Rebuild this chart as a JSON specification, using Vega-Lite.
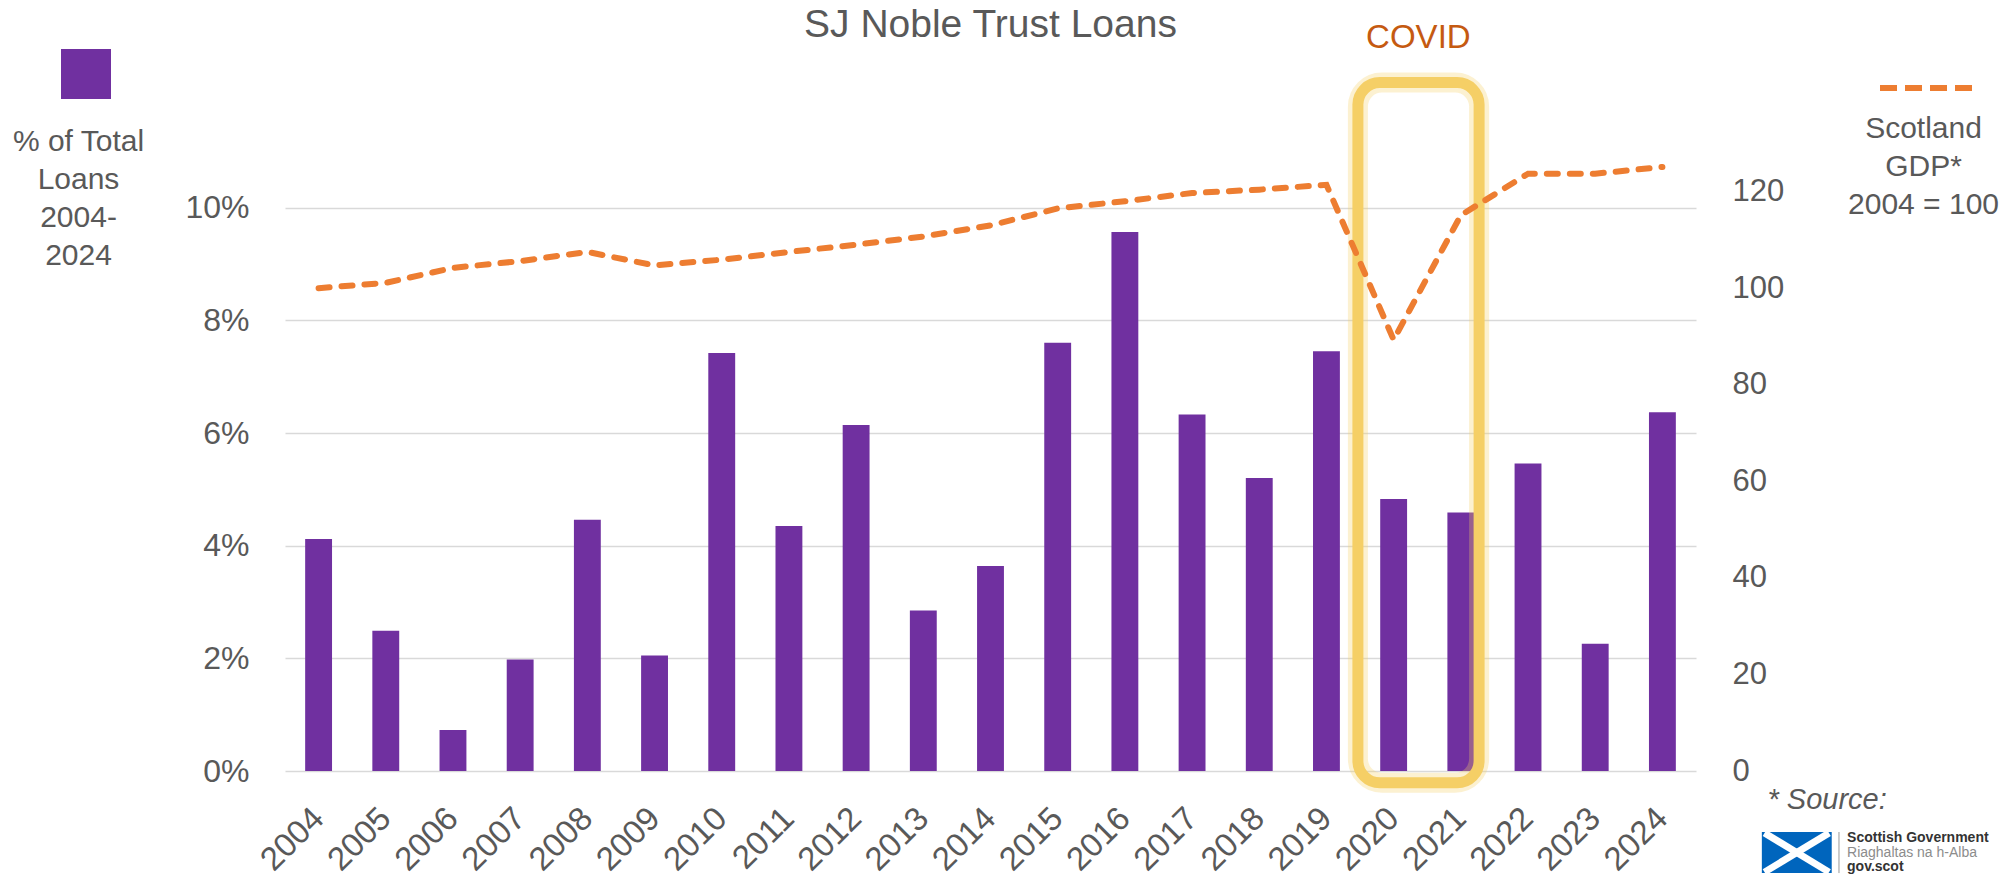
{
  "$schema": "https://vega.github.io/schema/vega-lite/v6.json",
  "width": 1411,
  "height": 676,
  "autosize": {"type": "none"},
  "padding": {"left": 285, "top": 95, "right": 316, "bottom": 106},
  "background": "white",
  "config": {"view": {"stroke": null}, "font": "Liberation Sans"},
  "data": {"values": [
    {"year": "2004", "loans": 0.0412, "gdp": 100.0},
    {"year": "2005", "loans": 0.0249, "gdp": 101.1},
    {"year": "2006", "loans": 0.0073, "gdp": 104.2},
    {"year": "2007", "loans": 0.0198, "gdp": 105.6},
    {"year": "2008", "loans": 0.0446, "gdp": 107.5},
    {"year": "2009", "loans": 0.0205, "gdp": 104.7},
    {"year": "2010", "loans": 0.0742, "gdp": 105.9},
    {"year": "2011", "loans": 0.0435, "gdp": 107.5},
    {"year": "2012", "loans": 0.0614, "gdp": 109.0},
    {"year": "2013", "loans": 0.0285, "gdp": 110.7},
    {"year": "2014", "loans": 0.0364, "gdp": 113.0},
    {"year": "2015", "loans": 0.0760, "gdp": 116.5},
    {"year": "2016", "loans": 0.0957, "gdp": 118.0},
    {"year": "2017", "loans": 0.0633, "gdp": 119.7},
    {"year": "2018", "loans": 0.0520, "gdp": 120.4},
    {"year": "2019", "loans": 0.0745, "gdp": 121.4},
    {"year": "2020", "loans": 0.0483, "gdp": 89.3},
    {"year": "2021", "loans": 0.0459, "gdp": 115.1},
    {"year": "2022", "loans": 0.0546, "gdp": 123.7},
    {"year": "2023", "loans": 0.0226, "gdp": 123.7},
    {"year": "2024", "loans": 0.0637, "gdp": 125.1}
  ]},
  "layer": [
    {
      "layer": [
        {
          "mark": {"type": "bar"},
          "encoding": {
            "x": {"field": "year", "type": "ordinal", "scale": {"paddingInner": 0.6, "paddingOuter": 0.3},
              "axis": {"domain": false, "ticks": false, "labelAngle": -45, "labelAlign": "right", "labelBaseline": "middle", "labelPadding": 42, "labelOffset": 0, "labelFontSize": 33, "labelColor": "#595959",
                "title": "* Source:", "titleX": 1482, "titleY": 37, "titleAlign": "left", "titleBaseline": "alphabetic", "titleFontStyle": "italic", "titleFontSize": 29, "titleFontWeight": "normal", "titleColor": "#595959"}},
            "y": {"field": "loans", "type": "quantitative", "scale": {"domain": [0, 0.12]},
              "axis": {"values": [0, 0.02, 0.04, 0.06, 0.08, 0.1], "format": ".0%", "grid": true, "gridColor": "#D9D9D9", "gridWidth": 1.5, "domain": false, "ticks": false, "tickSize": 0, "labelPadding": 36, "labelFontSize": 32, "labelColor": "#595959",
                "title": ["% of Total", "Loans", "2004-", "2024"], "titleAngle": 0, "titleX": -207, "titleY": 55, "titleAlign": "center", "titleBaseline": "alphabetic", "titleFontSize": 30, "titleFontWeight": "normal", "titleColor": "#595959", "titleLineHeight": 38}},
            "color": {"datum": "% of Total Loans", "scale": {"range": ["#7030A0"]},
              "legend": {"orient": "none", "legendX": -224, "legendY": -46, "title": null, "symbolType": "square", "symbolSize": 2500, "symbolStrokeWidth": 0, "labelExpr": "''", "padding": 0}}
          }
        },
        {
          "data": {"values": [{"title": "SJ Noble Trust Loans"}]},
          "mark": {"type": "text", "fontSize": 39, "color": "#595959", "align": "center", "baseline": "alphabetic"},
          "encoding": {
            "text": {"field": "title"},
            "x": {"datum": "2014"},
            "y": {"datum": 0.1303, "scale": {"domain": [0, 0.12]}}
          }
        },
        {
          "data": {"values": [{"period": "COVID"}]},
          "mark": {"type": "rect", "fillOpacity": 0, "stroke": "#F5CF66", "strokeOpacity": 0.3, "strokeWidth": 20, "cornerRadius": 24},
          "encoding": {
            "x": {"datum": "2020", "bandPosition": -0.83},
            "x2": {"datum": "2020", "bandPosition": 3.68},
            "y": {"datum": 0.1222, "scale": {"domain": [0, 0.12]}},
            "y2": {"datum": -0.0021}
          }
        },
        {
          "data": {"values": [{"period": "COVID"}]},
          "mark": {"type": "rect", "fillOpacity": 0, "stroke": "#F5CF66", "strokeWidth": 11, "cornerRadius": 22},
          "encoding": {
            "x": {"datum": "2020", "bandPosition": -0.83},
            "x2": {"datum": "2020", "bandPosition": 3.68},
            "y": {"datum": 0.1222, "scale": {"domain": [0, 0.12]}},
            "y2": {"datum": -0.0021}
          }
        },
        {
          "data": {"values": [{"label": "COVID"}]},
          "mark": {"type": "text", "fontSize": 33, "color": "#C55A11", "align": "center", "baseline": "alphabetic"},
          "encoding": {
            "text": {"field": "label"},
            "x": {"datum": "2020", "bandPosition": 1.42},
            "y": {"datum": 0.1283, "scale": {"domain": [0, 0.12]}}
          }
        },
        {
          "data": {"values": [{"logo": "flag"}]},
          "mark": {"type": "rect", "fill": "#0065BD"},
          "encoding": {
            "x": {"datum": "2024", "bandPosition": 4.2},
            "x2": {"datum": "2024", "bandPosition": 6.8},
            "y": {"datum": -0.01083, "scale": {"domain": [0, 0.12]}},
            "y2": {"datum": -0.01812}
          }
        },
        {
          "data": {"values": [{"logo": "flag"}]},
          "mark": {"type": "rule", "color": "white", "strokeWidth": 7},
          "encoding": {
            "x": {"datum": "2024", "bandPosition": 4.3},
            "x2": {"datum": "2024", "bandPosition": 6.7},
            "y": {"datum": -0.011, "scale": {"domain": [0, 0.12]}},
            "y2": {"datum": -0.01795}
          }
        },
        {
          "data": {"values": [{"logo": "flag"}]},
          "mark": {"type": "rule", "color": "white", "strokeWidth": 7},
          "encoding": {
            "x": {"datum": "2024", "bandPosition": 4.3},
            "x2": {"datum": "2024", "bandPosition": 6.7},
            "y": {"datum": -0.01795, "scale": {"domain": [0, 0.12]}},
            "y2": {"datum": -0.011}
          }
        },
        {
          "data": {"values": [{"logo": "separator"}]},
          "mark": {"type": "rule", "color": "#9A9A9A", "strokeWidth": 1},
          "encoding": {
            "x": {"datum": "2024", "bandPosition": 7.07},
            "y": {"datum": -0.01083, "scale": {"domain": [0, 0.12]}},
            "y2": {"datum": -0.01812}
          }
        },
        {
          "data": {"values": [{"t": "Scottish Government"}]},
          "mark": {"type": "text", "fontSize": 14, "fontWeight": 600, "color": "#333333", "align": "left", "baseline": "alphabetic"},
          "encoding": {
            "text": {"field": "t"},
            "x": {"datum": "2024", "bandPosition": 7.37},
            "y": {"datum": -0.0126, "scale": {"domain": [0, 0.12]}}
          }
        },
        {
          "data": {"values": [{"t": "Riaghaltas na h-Alba"}]},
          "mark": {"type": "text", "fontSize": 14, "color": "#8C8C8C", "align": "left", "baseline": "alphabetic"},
          "encoding": {
            "text": {"field": "t"},
            "x": {"datum": "2024", "bandPosition": 7.37},
            "y": {"datum": -0.01518, "scale": {"domain": [0, 0.12]}}
          }
        },
        {
          "data": {"values": [{"t": "gov.scot"}]},
          "mark": {"type": "text", "fontSize": 14, "fontWeight": "bold", "color": "#333333", "align": "left", "baseline": "alphabetic"},
          "encoding": {
            "text": {"field": "t"},
            "x": {"datum": "2024", "bandPosition": 7.37},
            "y": {"datum": -0.01776, "scale": {"domain": [0, 0.12]}}
          }
        }
      ]
    },
    {
      "mark": {"type": "line", "strokeWidth": 6, "strokeDash": [11, 12], "strokeCap": "round"},
      "encoding": {
        "x": {"field": "year", "type": "ordinal"},
        "y": {"field": "gdp", "type": "quantitative", "scale": {"domain": [0, 140]},
          "axis": {"orient": "right", "values": [0, 20, 40, 60, 80, 100, 120], "grid": false, "domain": false, "ticks": false, "tickSize": 0, "labelPadding": 36, "labelFontSize": 31, "labelColor": "#595959", "labelAlign": "left",
            "title": ["Scotland", "GDP*", "2004 = 100"], "titleAngle": 0, "titleX": 227, "titleY": 42, "titleAlign": "center", "titleBaseline": "alphabetic", "titleFontSize": 30, "titleFontWeight": "normal", "titleColor": "#595959", "titleLineHeight": 38}},
        "stroke": {"datum": "Scotland GDP", "scale": {"range": ["#ED7D31"]},
          "legend": {"orient": "none", "legendX": 1592, "legendY": -56, "title": null, "symbolType": "stroke", "symbolSize": 8464, "symbolStrokeWidth": 6, "symbolDash": [17, 8], "labelExpr": "''", "padding": 0}}
      }
    }
  ],
  "resolve": {"scale": {"y": "independent"}}
}
